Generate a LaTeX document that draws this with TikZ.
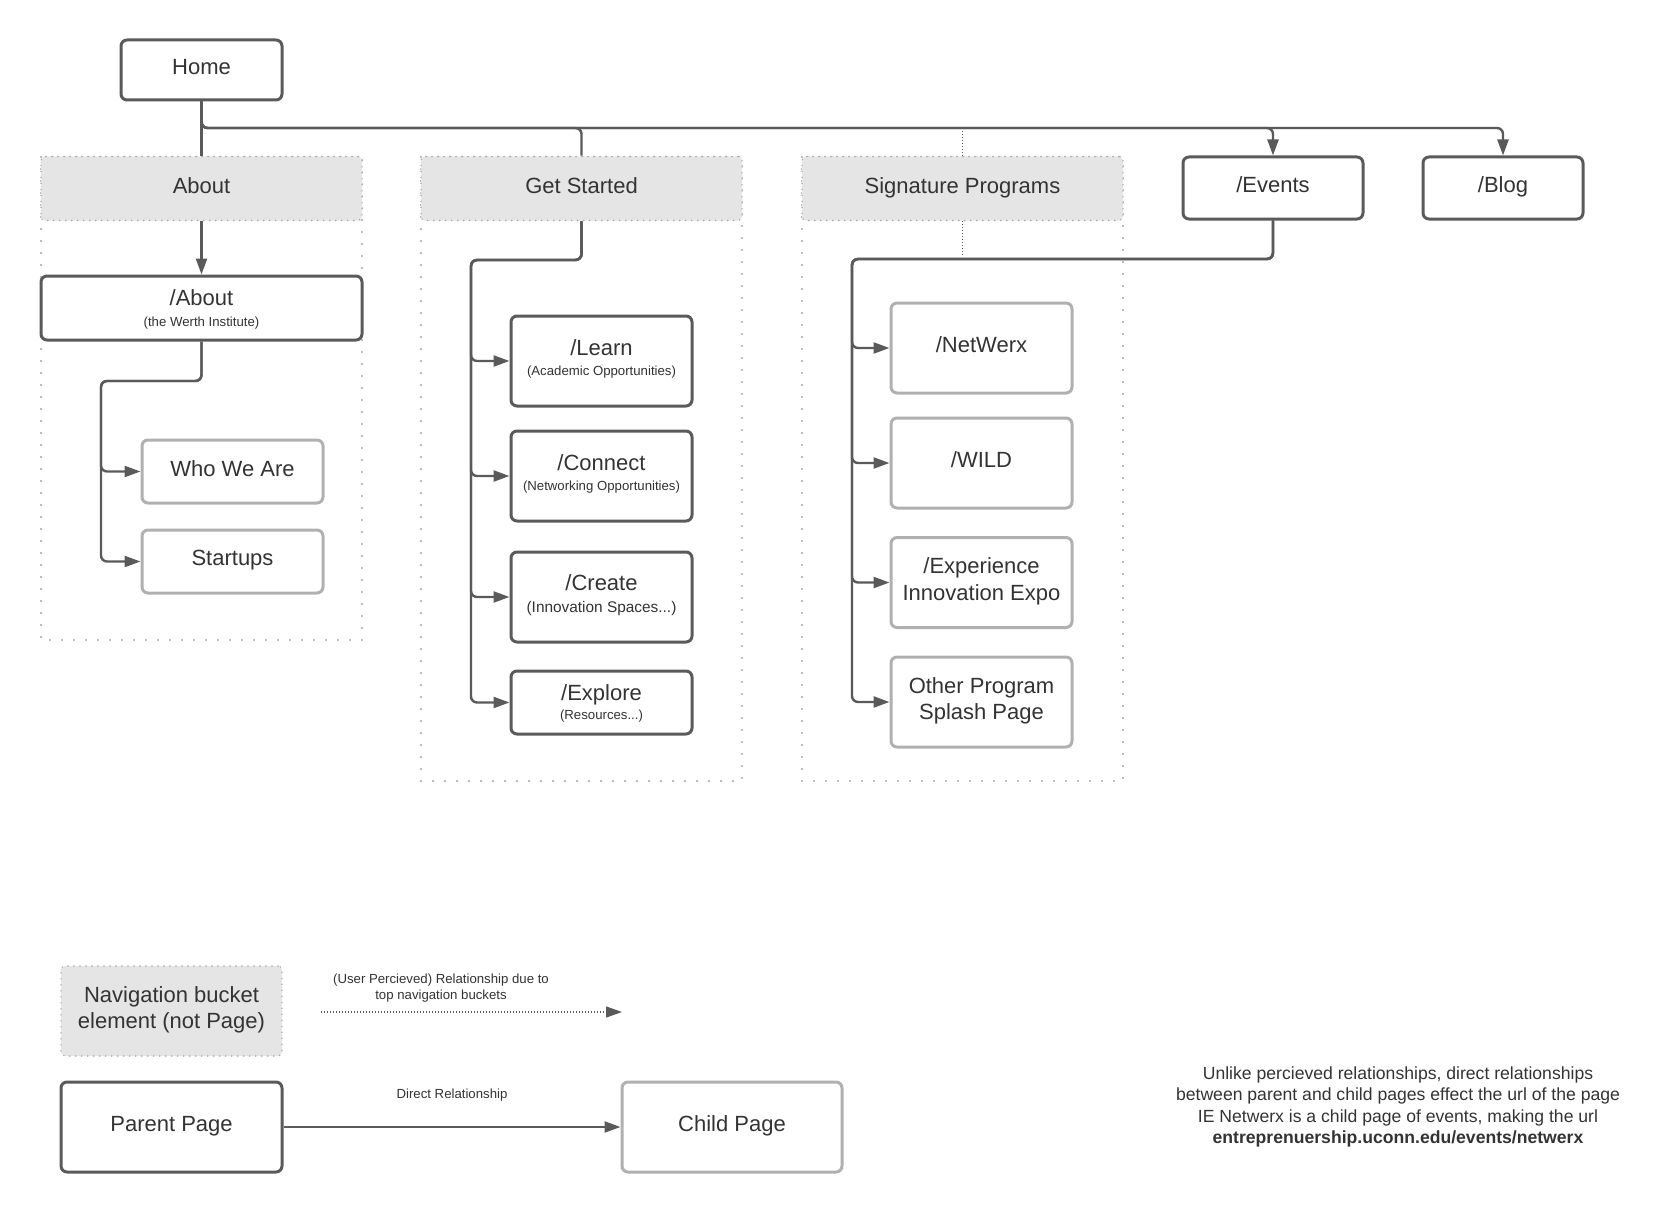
\documentclass[tikz,border=0pt]{standalone}
\usepackage{fontspec}
\setmainfont{Liberation Sans}
\usetikzlibrary{arrows.meta}

\definecolor{pageline}{RGB}{90,90,90}
\definecolor{childline}{RGB}{176,176,176}
\definecolor{bucketfill}{RGB}{229,229,229}
\definecolor{bucketline}{RGB}{165,165,165}
\definecolor{labeltext}{RGB}{51,51,51}

\newcommand{\subtext}[1]{{\fontsize{6.6}{8}\selectfont #1}}

\tikzset{
  page/.style={draw=pageline, line width=1.5pt, rounded corners=3pt, fill=white,
    text=labeltext, align=center, inner sep=0pt, text depth=3.3pt,
    font=\fontsize{11}{13.3}\selectfont},
  childpage/.style={page, draw=childline},
  bucket/.style={page, draw=bucketline, fill=bucketfill, line width=0.8pt,
    dash pattern=on 0pt off 3pt, line cap=round, rounded corners=2pt},
  tallbox/.style={minimum width=90.5pt, minimum height=45pt},
  shortbox/.style={minimum width=90.5pt, minimum height=31.5pt},
  link/.style={draw=pageline, line width=1.2pt, rounded corners=3pt},
  linkto/.style={link, -{Triangle[length=8pt,width=5.5pt]}},
  navlink/.style={draw=pageline, line width=0.6pt, dash pattern=on 0.5pt off 1pt},
  bucketframe/.style={draw=bucketline, line width=1.2pt, dash pattern=on 0pt off 6pt, line cap=round},
  smalllabel/.style={text=labeltext, align=center, font=\fontsize{6.6}{8}\selectfont},
}

\begin{document}
\begin{tikzpicture}[x=0.5pt, y=-0.5pt]
  \useasboundingbox (0,0) rectangle (1671,1220);

  % bucket outlines
  \draw[bucketframe] (41,157) rectangle (362,640);
  \draw[bucketframe] (421,157) rectangle (742,781);
  \draw[bucketframe] (802,157) rectangle (1123,781);

  % top level
  \node[page, minimum width=80.5pt, minimum height=30pt] (home) at (201.5,70) {Home};
  \node[bucket, minimum width=160.5pt, minimum height=32pt] (about) at (201.5,188.5) {About};
  \node[bucket, minimum width=160.5pt, minimum height=32pt] (getstarted) at (581.5,188.5) {Get Started};
  \node[bucket, minimum width=160.5pt, minimum height=32pt] (signature) at (962.5,188.5) {Signature Programs};
  \node[page, minimum width=90pt, minimum height=31pt] (events) at (1273,188) {/Events};
  \node[page, minimum width=80pt, minimum height=31pt] (blog) at (1503,188) {/Blog};

  % about
  \node[page, minimum width=160.5pt, minimum height=32pt, text depth=0pt] (aboutpage) at (201.5,308)
    {/About\\[-3pt]\subtext{(the Werth Institute)}};
  \node[childpage, shortbox] (who) at (232.5,471.5) {Who We Are};
  \node[childpage, shortbox] (startups) at (232.5,561.5) {Startups};

  % get started
  \node[page, tallbox] (learn) at (601.5,361) {/Learn\\[-3pt]\subtext{(Academic Opportunities)}};
  \node[page, tallbox] (connect) at (601.5,476) {/Connect\\[-3pt]\subtext{(Networking Opportunities)}};
  \node[page, tallbox] (create) at (601.5,597)
    {/Create\\[-2.5pt]{\fontsize{7.7}{9}\selectfont (Innovation Spaces...)}};
  \node[page, shortbox, text depth=0.3pt] (explore) at (601.5,702.5) {/Explore\\[-3.5pt]\subtext{(Resources...)}};

  % events children
  \node[childpage, tallbox] (netwerx) at (981.5,348) {/NetWerx};
  \node[childpage, tallbox] (wild) at (981.5,463) {/WILD};
  \node[childpage, tallbox] (expo) at (981.5,582.5) {/Experience\\Innovation Expo};
  \node[childpage, tallbox] (splash) at (981.5,702) {Other Program\\Splash Page};

  \coordinate (bus) at (0,128);
  \coordinate (aboutrail) at (101,381);
  \coordinate (startrail) at (471,260);
  \coordinate (eventrail) at (852,259);

  % home links
  \draw[link] (home.south) -- (about.north);
  \draw[link] (home.south) |- (bus -| getstarted) -- (getstarted.north);
  \draw[linkto] (home.south) |- (bus -| events) -- (events.north);
  \draw[linkto] (home.south) |- (bus -| blog) -- (blog.north);
  \draw[navlink] (bus -| signature) -- (signature.north);
  \draw[navlink] (signature.south) -- ([yshift=1.5pt]signature.south |- eventrail);

  % children
  \draw[linkto] (about.south) -- (aboutpage.north);
  \foreach \child in {who,startups}
    \draw[linkto] (aboutpage.south) |- (aboutrail) |- (\child.west);
  \foreach \child in {learn,connect,create,explore}
    \draw[linkto] (getstarted.south) |- (startrail) |- (\child.west);
  \foreach \child in {netwerx,wild,expo,splash}
    \draw[linkto] (events.south) |- (eventrail) |- (\child.west);

  % legend
  \node[bucket, minimum width=110.5pt, minimum height=45pt] (navkey) at (171.5,1011)
    {Navigation bucket\\element (not Page)};
  \coordinate (percstart) at (321,1012);
  \coordinate (percend) at (622,1012);
  \draw[navlink, -{Triangle[length=8pt,width=5.5pt]}] (percstart) -- (percend);
  \node[smalllabel] (perclabel) at (441,988) {(User Percieved) Relationship due to\\top navigation buckets};

  \node[page, minimum width=110.5pt, minimum height=45pt] (parentkey) at (171.5,1127) {Parent Page};
  \node[childpage, minimum width=110pt, minimum height=45pt] (childkey) at (732,1127) {Child Page};
  \draw[linkto] (parentkey) -- (childkey);
  \node[smalllabel] (directlabel) at (452,1095) {Direct Relationship};

  \node[text=labeltext, align=center, font=\fontsize{8.8}{10.65}\selectfont] (note) at (1398,1107)
    {Unlike percieved relationships, direct relationships\\
     between parent and child pages effect the url of the page\\
     IE Netwerx is a child page of events, making the url\\
     \textbf{entreprenuership.uconn.edu/events/netwerx}};
\end{tikzpicture}
\end{document}
